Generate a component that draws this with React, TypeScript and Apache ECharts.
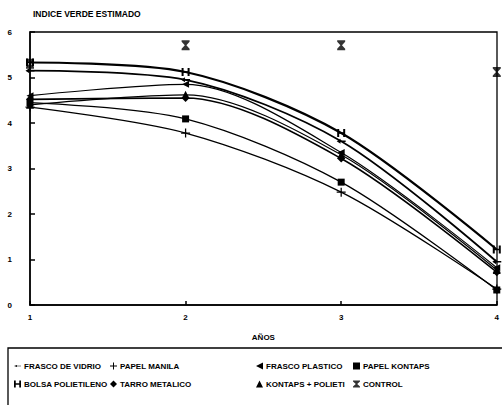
import React, { useEffect, useRef } from "react";
import * as echarts from "echarts";

const years = [1, 2, 3, 4];
const yTicks = [0, 1, 2, 3, 4, 5, 6];
const seriesNames = [
  "FRASCO DE VIDRIO",
  "PAPEL MANILA",
  "FRASCO PLASTICO",
  "PAPEL KONTAPS",
  "BOLSA POLIETILENO",
  "TARRO METALICO",
  "KONTAPS + POLIETI",
  "CONTROL",
];
const frascoVidrio = [5.15, 4.95, 3.6, 0.95];
const papelManila = [4.35, 3.78, 2.48, 0.35];
const frascoPlastico = [4.6, 4.85, 3.35, 0.82];
const papelKontaps = [4.45, 4.09, 2.7, 0.33];
const bolsaPolietileno = [5.33, 5.12, 3.78, 1.22];
const tarroMetalico = [4.52, 4.55, 3.22, 0.72];
const kontapsPolieti = [4.4, 4.62, 3.3, 0.77];
const control = [5.3, 5.71, 5.71, 5.12];

const seriesValues = [
  frascoVidrio,
  papelManila,
  frascoPlastico,
  papelKontaps,
  bolsaPolietileno,
  tarroMetalico,
  kontapsPolieti,
  control,
];

const SYM = {
  dash: "path://M0,4 L6,2 L6,3.4 L14,3.4 L14,4.6 L6,4.6 L6,6 Z",
  plus: "path://M4.3,0 L5.7,0 L5.7,4.3 L10,4.3 L10,5.7 L5.7,5.7 L5.7,10 L4.3,10 L4.3,5.7 L0,5.7 L0,4.3 L4.3,4.3 Z",
  leftTri: "path://M0,5 L10,0 L10,10 Z",
  square: "rect",
  hh: "path://M0,0 L2.5,0 L2.5,4 L7.5,4 L7.5,0 L10,0 L10,10 L7.5,10 L7.5,6 L2.5,6 L2.5,10 L0,10 Z",
  diamond: "diamond",
  triangle: "triangle",
  hourglass: "path://M0,0 L10,0 L10,1.5 L6,5 L10,8.5 L10,10 L0,10 L0,8.5 L4,5 L0,1.5 Z",
};
const symbols = [SYM.dash, SYM.plus, SYM.leftTri, SYM.square, SYM.hh, SYM.diamond, SYM.triangle, SYM.hourglass];
const symbolSizes = [[9, 5], 9, 7, 7, 8, 8, 8, [8, 10]];
const lineWidths = [1.8, 1.3, 1.2, 1.3, 2.2, 1.6, 1.2, 0];

const font = "'Liberation Sans', Arial, sans-serif";

export default function App() {
  const ref = useRef<HTMLDivElement>(null);
  useEffect(() => {
    if (!ref.current) return;
    const chart = echarts.init(ref.current, null, { renderer: "svg" });
    const legendPos = [
      [14, 362],
      [110, 362],
      [256, 362],
      [353, 362],
      [14, 380],
      [110, 380],
      [256, 380],
      [353, 380],
    ];
    const series: any[] = seriesNames.map((name, i) => {
      const isControl = name === "CONTROL";
      return {
        name,
        type: isControl ? "scatter" : "line",
        data: years.map((x, j) => [x, seriesValues[i][j]]),
        smooth: 0.3,
        symbol: symbols[i],
        symbolSize: symbolSizes[i],
        showSymbol: true,
        itemStyle: { color: "#000" },
        lineStyle: { color: "#000", width: lineWidths[i] },
        z: isControl ? 5 : 3,
      };
    });
    chart.setOption({
      animation: false,
      backgroundColor: "#fff",
      grid: { left: 30, right: 5, top: 32, bottom: 100 },
      xAxis: {
        type: "value",
        min: 1,
        max: 4,
        interval: 1,
        name: "AÑOS",
        nameLocation: "middle",
        nameGap: 28,
        nameTextStyle: { fontFamily: font, fontWeight: "bold", fontSize: 8, color: "#000" },
        axisLine: { lineStyle: { color: "#000", width: 1.5 } },
        axisTick: { inside: true, length: 4, lineStyle: { color: "#000", width: 1.5 } },
        axisLabel: { fontFamily: font, fontWeight: "bold", fontSize: 8, color: "#000", margin: 8 },
        splitLine: { show: false },
      },
      yAxis: {
        type: "value",
        min: 0,
        max: 6,
        interval: 1,
        axisLine: { show: true, lineStyle: { color: "#000", width: 1.5 } },
        axisTick: { show: true, inside: true, length: 5, lineStyle: { color: "#000", width: 1.5 } },
        axisLabel: {
          fontFamily: font,
          fontWeight: "bold",
          fontSize: 8,
          color: "#000",
          margin: 18,
          formatter: (v: number) => (yTicks.includes(v) ? String(v) : ""),
        },
        splitLine: { show: false },
      },
      legend: seriesNames.map((name, i) => ({
        data: [name],
        left: legendPos[i][0],
        top: legendPos[i][1],
        itemWidth: 7,
        itemHeight: 7,
        itemGap: 2,
        padding: 0,
        icon: symbols[i],
        textStyle: { fontFamily: font, fontWeight: "bold", fontSize: 8, color: "#000", padding: [0, 0, 0, -2] },
        selectedMode: false,
      })),
      graphic: [
        {
          type: "text",
          left: 33,
          top: 9,
          style: { text: "INDICE VERDE ESTIMADO", fontFamily: font, fontWeight: "bold", fontSize: 8.5, fill: "#000" },
        },
        {
          type: "rect",
          shape: { x: 30, y: 32, width: 467, height: 273 },
          style: { fill: "none", stroke: "#000", lineWidth: 1.3 },
          silent: true,
          z: 1,
        },
        {
          type: "rect",
          shape: { x: 8, y: 348, width: 510, height: 80 },
          style: { fill: "none", stroke: "#000", lineWidth: 1.3 },
          silent: true,
        },
      ],
      series,
    });
    return () => chart.dispose();
  }, []);
  return <div ref={ref} style={{ width: 502, height: 405, position: "absolute", left: 0, top: 0 }} />;
}
